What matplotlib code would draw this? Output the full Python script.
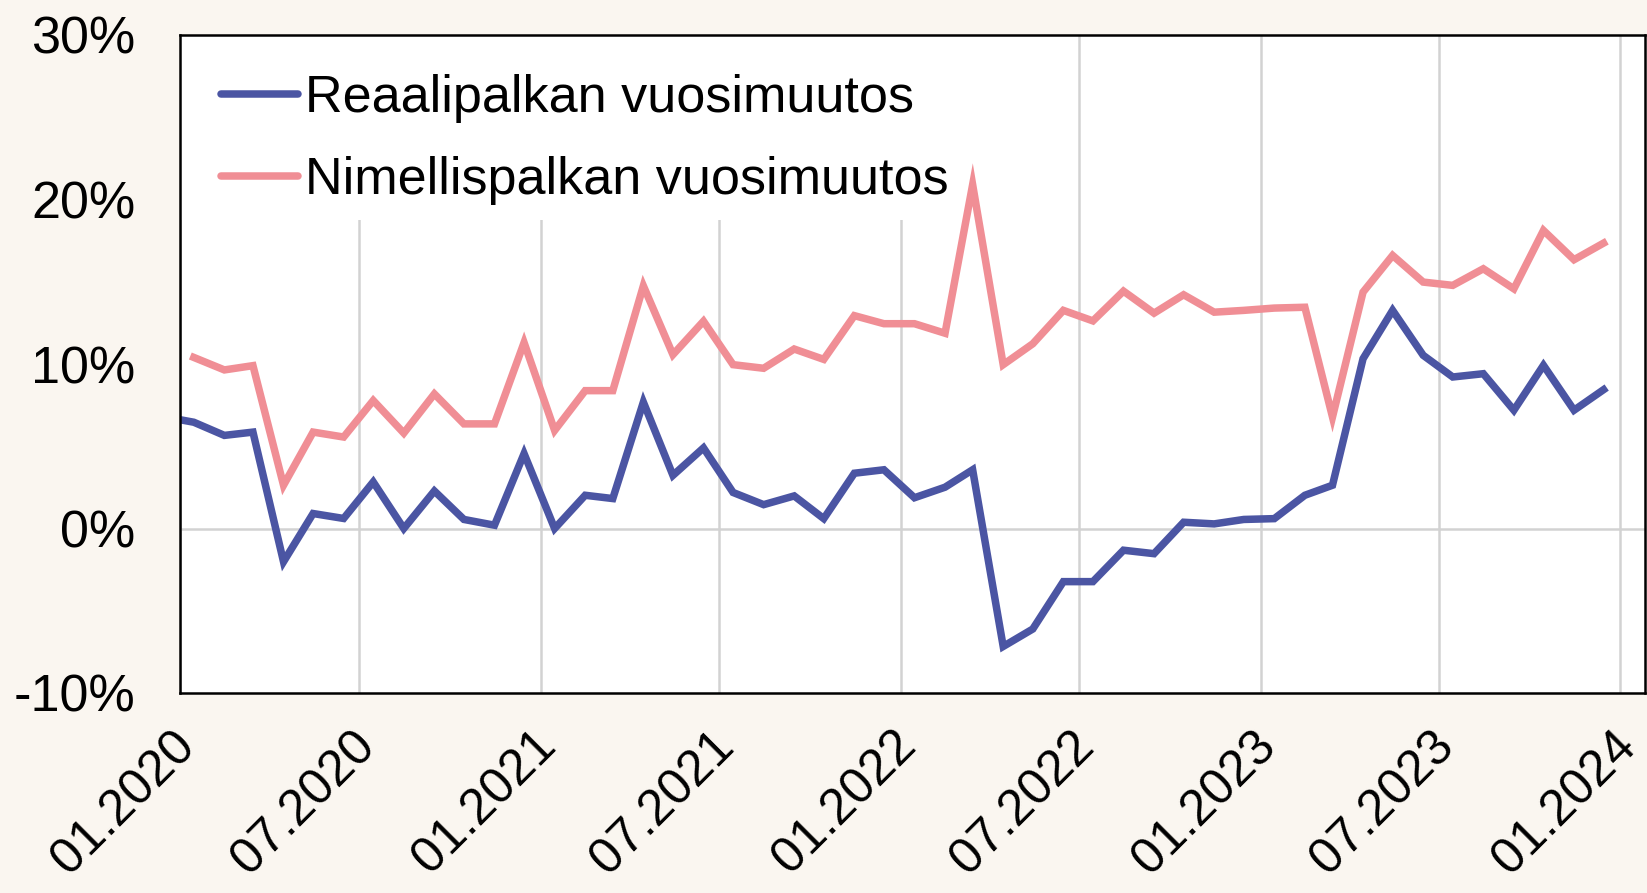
import numpy as np
import pandas as pd
import matplotlib
matplotlib.use('Agg')
import matplotlib.pyplot as plt
import matplotlib.dates as mdates
import matplotlib.transforms as mtransforms
from matplotlib.patches import Rectangle

# Annual change (%) of real and nominal wages, monthly
real_months = pd.date_range('2019-12-01', '2023-12-01', freq='MS') + pd.Timedelta(days=14)
nominal_months = pd.date_range('2020-01-01', '2023-12-01', freq='MS') + pd.Timedelta(days=14)

real_change = [6.8,
               6.46, 5.66, 5.86, -2.02, 0.91, 0.61, 2.83, 0.0, 2.28, 0.55, 0.2, 4.55,
               0.0, 2.02, 1.82, 7.68, 3.23, 4.9, 2.19, 1.45, 1.98, 0.6, 3.36, 3.57,
               1.87, 2.51, 3.57, -7.17, -6.11, -3.23, -3.23, -1.32, -1.53, 0.38, 0.28, 0.55,
               0.6, 2.02, 2.63, 10.32, 13.26, 10.53, 9.21, 9.41, 7.19, 9.92, 7.19, 8.44]

nominal_change = [10.4, 9.64, 9.9, 2.63, 5.86, 5.56, 7.78, 5.8, 8.18, 6.36, 6.36, 11.3,
                  5.96, 8.38, 8.38, 14.75, 10.57, 12.6, 9.96, 9.74, 10.91, 10.28, 12.94, 12.45,
                  12.45, 11.87, 20.9, 9.96, 11.23, 13.26, 12.62, 14.43, 13.09, 14.21, 13.15, 13.26,
                  13.4, 13.45, 6.78, 14.37, 16.6, 14.98, 14.78, 15.79, 14.57, 18.12, 16.34, 17.35]

labels = ['Reaalipalkan vuosimuutos', 'Nimellispalkan vuosimuutos']
y_ticks = [-10, 0, 10, 20, 30]

BLUE = '#4b55a3'
PINK = '#f08e95'
BG = '#faf6f0'
GRID = '#d2d2d2'

plt.rcParams['font.family'] = ['Liberation Sans', 'DejaVu Sans']
FS = 37.5

fig = plt.figure(figsize=(16.47, 8.93), dpi=100, facecolor=BG)
ax = fig.add_axes([180 / 1647, 1 - 693 / 893, (1645 - 180) / 1647, (693 - 35) / 893])
ax.set_facecolor('white')

ax.plot(real_months, real_change, color=BLUE, lw=5.4, label=labels[0],
        solid_joinstyle='miter', zorder=3)
ax.plot(nominal_months, nominal_change, color=PINK, lw=5.4, label=labels[1],
        solid_joinstyle='miter', zorder=3)

ax.set_xlim(pd.Timestamp('2020-01-01'), pd.Timestamp('2024-01-26'))
ax.set_ylim(-10, 30)
ax.set_yticks(y_ticks)
ax.set_yticklabels([f'{t}%' for t in y_ticks])

ax.xaxis.set_major_locator(mdates.MonthLocator(bymonth=[1, 7]))
ax.xaxis.set_major_formatter(mdates.DateFormatter('%m.%Y'))

ax.grid(axis='x', color=GRID, lw=1.8, zorder=1)
ax.axhline(0, color=GRID, lw=1.8, zorder=1)

# white block behind the legend hides the upper ends of the gridlines
ax.add_patch(Rectangle((0, 1 - (220 - 35) / 658), (956 - 180) / 1465, (220 - 35) / 658,
                       transform=ax.transAxes, facecolor='white', edgecolor='none', zorder=2))

ax.tick_params(axis='both', length=0, labelsize=FS, colors='black')
ax.tick_params(axis='y', pad=32)
ax.tick_params(axis='x', pad=21, labelsize=36)
shift = mtransforms.ScaledTranslation(-6 / 72, 0, fig.dpi_scale_trans)
for lbl in ax.get_xticklabels():
    lbl.set_rotation(45)
    lbl.set_ha('right')
    lbl.set_va('top')
    lbl.set_rotation_mode('anchor')
    lbl.set_transform(lbl.get_transform() + shift)

for s in ax.spines.values():
    s.set_linewidth(1.8)
    s.set_color('black')
    s.set_zorder(4)

leg = ax.legend(loc='upper left', bbox_to_anchor=(0.028, 0.94), fontsize=FS, frameon=False,
                borderaxespad=0, borderpad=0, handlelength=1.48, handletextpad=0.14,
                labelspacing=0.62)
leg.set_zorder(5)
for h in leg.get_lines():
    h.set_linewidth(5.4)
    h.set_solid_capstyle('round')

fig.savefig('out.png', dpi=100, facecolor=BG)
